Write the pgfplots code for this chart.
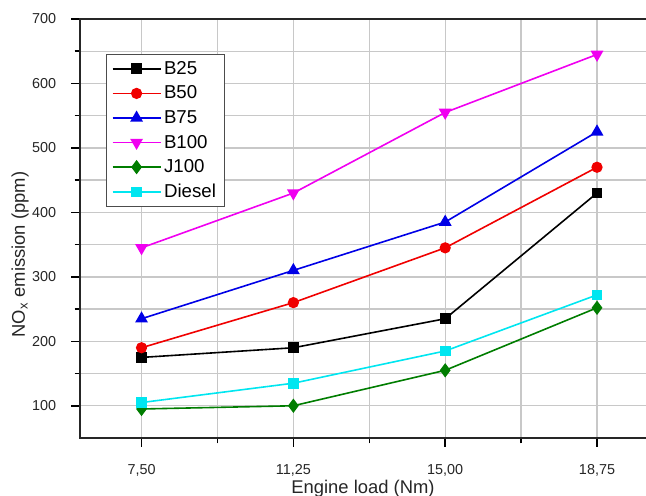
\documentclass[border=0pt]{standalone}
\usepackage{fontspec}
\setmainfont{Liberation Sans}
\usepackage{pgfplots}
\pgfplotsset{compat=1.18}

\definecolor{cB25}{RGB}{0,0,0}
\definecolor{cB50}{RGB}{240,0,0}
\definecolor{cB75}{RGB}{0,0,230}
\definecolor{cB100}{RGB}{240,0,240}
\definecolor{cJ100}{RGB}{0,125,0}
\definecolor{cDiesel}{RGB}{0,230,240}
\definecolor{gridgray}{RGB}{200,200,200}

\begin{document}
\begin{tikzpicture}
% 1px of the reference = 0.75pt
\begin{axis}[
    name=ax,
    scale only axis,
    width=424.5pt, height=314.25pt,
    xmin=5.98, xmax=19.96,
    ymin=50, ymax=700,
    axis line style={draw=none},
    xtick pos=left, ytick pos=left,
    xtick={7.5,11.25,15,18.75},
    xticklabels={{7,50},{11,25},{15,00},{18,75}},
    minor xtick={5.625,9.375,13.125,16.875},
    ytick={100,200,300,400,500,600,700},
    minor ytick={150,250,350,450,550,650},
    tick align=outside,
    major tick length=6.5pt, minor tick length=4pt,
    every tick/.append style={black, line width=1.1pt},
    grid=both,
    major grid style={gridgray, line width=1pt},
    minor grid style={gridgray, line width=1pt},
    /pgf/number format/assume math mode=true,
    ticklabel style={font=\fontsize{10.8}{12}\selectfont, text=black!85},
    xticklabel style={anchor=base, yshift=-21pt},
    yticklabel style={anchor=east, inner sep=0pt, xshift=-11.25pt},
    xlabel={Engine load (Nm)},
    ylabel={NO\textsubscript{x} emission (ppm)},
    every axis x label/.style={at={(rel axis cs:0.5,0)}, anchor=base, yshift=-41.25pt,
        font=\fontsize{13.8}{16}\selectfont, text=black!85},
    every axis y label/.style={at={(rel axis cs:0,0.5)}, rotate=90, anchor=center, xshift=-19.5pt, yshift=45pt,
        font=\fontsize{13.8}{16}\selectfont, text=black!85},
    legend style={at={(0.046,0.916)}, anchor=north west, draw=black!70, line width=0.6pt,
        fill=white, font=\fontsize{14}{16}\selectfont, row sep=3.2pt, inner xsep=4pt, inner ysep=3pt},
    legend cell align=left,
    legend image code/.code={\draw[mark repeat=2, mark phase=2] plot coordinates {(0pt,0pt) (18pt,0pt) (36pt,0pt)};},
    every axis plot/.append style={line width=1.2pt},
]
\addplot[cB25, mark=square*, mark size=3.4pt] coordinates {(7.5,175) (11.25,190) (15,235) (18.75,430)};
\addlegendentry{B25}
\addplot[cB50, mark=*, mark size=3.6pt] coordinates {(7.5,190) (11.25,260) (15,345) (18.75,470)};
\addlegendentry{B50}
\addplot[cB75, mark=triangle*, mark size=4.4pt] coordinates {(7.5,235) (11.25,310) (15,385) (18.75,525)};
\addlegendentry{B75}
\addplot[cB100, mark=triangle*, mark size=4.4pt, mark options={rotate=180}] coordinates {(7.5,345) (11.25,430) (15,555) (18.75,645)};
\addlegendentry{B100}
\addplot[cJ100, mark=diamond*, mark size=4.4pt] coordinates {(7.5,95) (11.25,100) (15,155) (18.75,252)};
\addlegendentry{J100}
\addplot[cDiesel, mark=square*, mark size=3.4pt] coordinates {(7.5,105) (11.25,135) (15,185) (18.75,272)};
\addlegendentry{Diesel}
\end{axis}
% spines: top, left, bottom (the reference is cropped before the right spine)
\draw[line width=1.5pt, black!85] (ax.north east) -- (ax.north west) -- (ax.south west) -- (ax.south east);
\pgfresetboundingbox
\path[use as bounding box] ([shift={(-60pt,-43.5pt)}]ax.south west) rectangle ([shift={(0pt,14.25pt)}]ax.north east);
\end{tikzpicture}
\end{document}
